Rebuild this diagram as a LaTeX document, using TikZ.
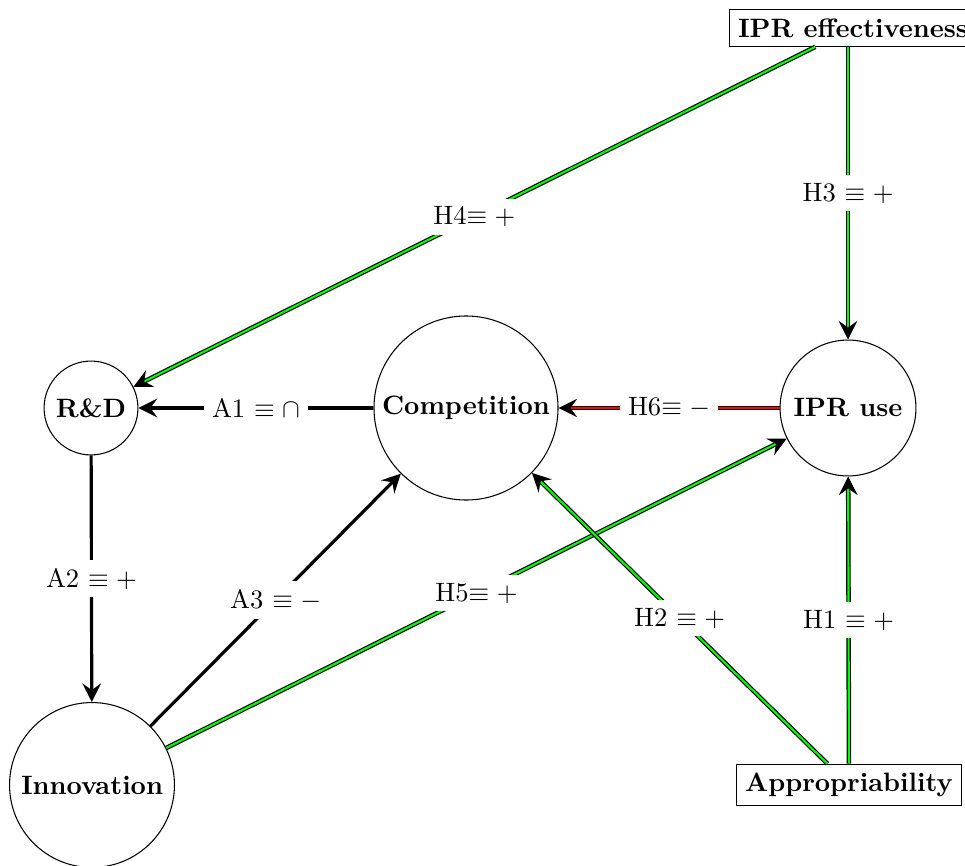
\documentclass[tikz,border=0pt]{standalone}
\usetikzlibrary{arrows.meta}
\begin{document}
\begin{tikzpicture}[x=0.376pt,y=-0.376pt,
  circ/.style={circle,draw,inner sep=0pt,font=\bfseries},
  boxn/.style={rectangle,draw,font=\bfseries},
  tip/.style={-{Stealth[length=7pt,width=7pt,inset=2.5pt]}},
  blk/.style={line width=1.2pt,tip},
  grn/.style={draw=black,double=green,line width=0.45pt,double distance=0.8pt,tip},
  rdl/.style={draw=black,double=red,line width=0.45pt,double distance=0.8pt,tip},
  lbl/.style={fill=white,inner sep=3pt,midway}]
\useasboundingbox (0,0) rectangle (965,865);
\node[circ,minimum size=35.3pt] (rd) at (91,408) {R\&D};
\node[circ,minimum size=69.2pt] (comp) at (466,408) {Competition};
\node[circ,minimum size=51.1pt] (use) at (848,408) {IPR use};
\node[circ,minimum size=62pt] (inn) at (92,785) {Innovation};
\node[boxn] (eff) at (853,28) {IPR effectiveness};
\node[boxn] (app) at (849,785) {Appropriability};
\draw[blk] (comp) -- node[lbl]{A1 $\equiv\cap$} (rd);
\draw[blk] (rd) -- node[lbl]{A2 $\equiv+$} (inn);
\draw[blk] (inn) -- node[lbl]{A3 $\equiv-$} (comp);
\draw[grn] (eff) -- node[lbl]{H4$\equiv+$} (rd);
\draw[grn] (eff.south -| use) -- node[lbl]{H3 $\equiv+$} (use);
\draw[rdl] (use) -- node[lbl]{H6$\equiv-$\ } (comp);
\draw[grn] (inn) -- node[lbl]{H5$\equiv+$} (use);
\draw[grn] (app) -- node[lbl]{H2 $\equiv+$} (comp);
\draw[grn] (app) -- node[lbl]{H1 $\equiv+$} (use);
\end{tikzpicture}
\end{document}
